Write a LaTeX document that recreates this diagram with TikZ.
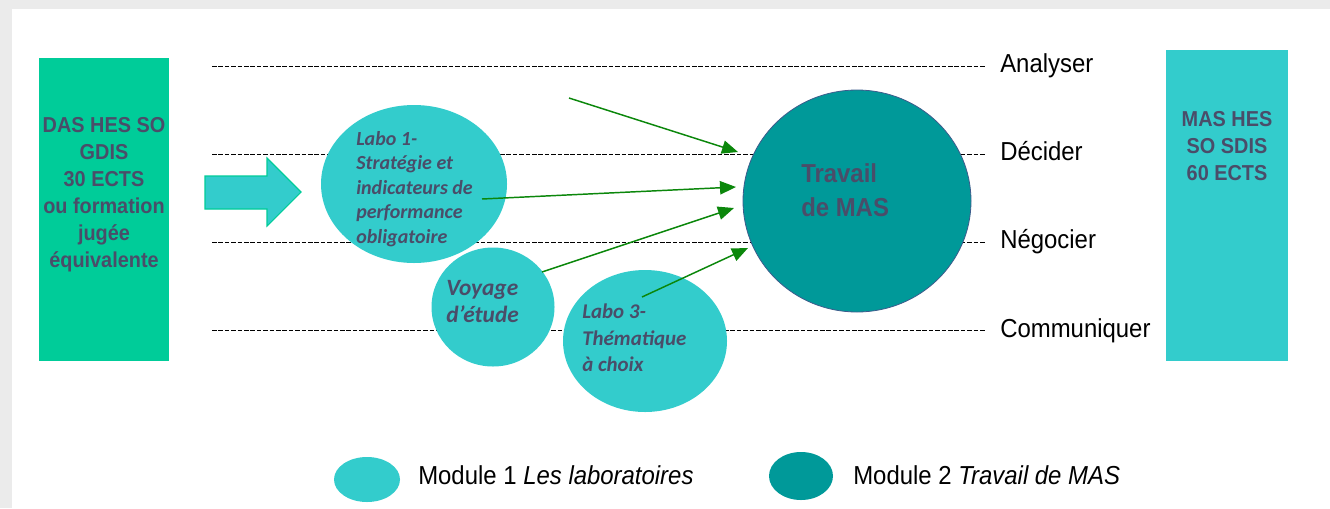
\documentclass[tikz,border=0pt]{standalone}
\usepackage{fontspec}
\setmainfont{Liberation Sans}
\newfontfamily\narrowfont[FakeStretch=0.92]{Liberation Sans}
\newfontfamily\calfont{Carlito}
\usetikzlibrary{arrows.meta,shapes.geometric}
\definecolor{bggray}{HTML}{EBEBEB}
\definecolor{boxgreen}{HTML}{00CC99}
\definecolor{lightteal}{HTML}{33CCCC}
\definecolor{darkteal}{HTML}{009999}
\definecolor{txtdark}{HTML}{4A4D69}
\definecolor{arrgreen}{HTML}{0B870B}
\definecolor{rimblue}{HTML}{3D5C8C}
\tikzset{
  level/.style={draw=black, line width=0.75pt, dash pattern=on 3.5pt off 1.3pt},
  lvllabel/.style={anchor=base west, inner sep=0pt, font=\narrowfont\fontsize{19.5}{22}\selectfont, text=black},
  labo/.style={ellipse, fill=lightteal, inner sep=0pt},
  labotext/.style={anchor=west, align=left, inner sep=0pt, text=txtdark},
  flow/.style={draw=arrgreen, line width=1.1pt, -{Triangle[length=12pt,width=10pt]}},
  bigbox/.style={rectangle, inner sep=0pt},
  boxtext/.style={align=center, inner sep=0pt, text=txtdark, font=\narrowfont\bfseries\fontsize{16.2}{20.3}\selectfont},
}
\begin{document}
\begin{tikzpicture}[x=0.75pt, y=-0.75pt]
\useasboundingbox (0,0) rectangle (1330,508);
\fill[bggray] (0,0) rectangle (1330,508);
\fill[white] (12,9) rectangle (1330,508);

% level lines
\draw[level] (212,66) -- (985,66);
\draw[level] (212,154) -- (985,154);
\draw[level] (212,242) -- (985,242);
\draw[level] (212,330) -- (985,330);
\node[lvllabel] (lan) at (1000,72) {Analyser};
\node[lvllabel] (lde) at (1000,160) {Décider};
\node[lvllabel] (lne) at (1000,248) {Négocier};
\node[lvllabel] (lco) at (1000,337) {Communiquer};

% side boxes
\node[bigbox, fill=boxgreen, minimum width=97.5pt, minimum height=227.25pt] (das) at (104,209.5) {};
\node[boxtext] (dastext) at (104,195) {DAS HES SO\\GDIS\\30 ECTS\\ou formation\\jugée\\équivalente};
\node[bigbox, fill=lightteal, minimum width=91.5pt, minimum height=233.25pt] (mas) at (1227,205.5) {};
\node[boxtext] (mastext) at (1227,146) {MAS HES\\SO SDIS\\60 ECTS};

% block arrow
\fill[lightteal, draw=boxgreen, line width=0.8pt] (205,176) -- (267,176) -- (267,158) -- (301,192) -- (267,226) -- (267,209) -- (205,209) -- cycle;

% labo ellipses
\node[labo, minimum width=139.5pt, minimum height=118.5pt] (labo1) at (414,184) {};
\node[labo, minimum width=92.25pt, minimum height=89.25pt] (voyage) at (493,307) {};
\node[labo, minimum width=123pt, minimum height=106.5pt] (labo3) at (645,341) {};
\node[ellipse, fill=darkteal, draw=rimblue, line width=0.6pt, inner sep=0pt, minimum width=171pt, minimum height=166.5pt] (travail) at (857,201) {};

\node[labotext, font=\calfont\bfseries\itshape\fontsize{15}{18.4}\selectfont] (t1) at (356,189) {Labo 1-\\Stratégie et\\indicateurs de\\performance\\obligatoire};
\node[labotext, font=\calfont\bfseries\itshape\fontsize{17.5}{20.3}\selectfont] (t2) at (446,301.5) {Voyage\\d’étude};
\node[labotext, font=\calfont\bfseries\itshape\fontsize{15.7}{19.9}\selectfont] (t3) at (582,338) {Labo 3-\\Thématique\\à choix};
\node[labotext, font=\narrowfont\bfseries\fontsize{19.5}{25.5}\selectfont] (t4) at (801,190) {Travail\\de MAS};

% arrows
\coordinate (s1) at (569,98);  \coordinate (e1) at (738,152);
\coordinate (s2) at (482,199); \coordinate (e2) at (736,187);
\coordinate (s3) at (542,272); \coordinate (e3) at (734,208);
\coordinate (s4) at (642,297); \coordinate (e4) at (748,248);
\draw[flow] (s1) -- (e1);
\draw[flow] (s2) -- (e2);
\draw[flow] (s3) -- (e3);
\draw[flow] (s4) -- (e4);

% legend
\node[labo, minimum width=49.5pt, minimum height=33.75pt] (leg1) at (367,479.5) {};
\node[lvllabel] (leg1t) at (418,484) {Module 1 \textit{Les laboratoires}};
\node[ellipse, fill=darkteal, inner sep=0pt, minimum width=48pt, minimum height=36pt] (leg2) at (801,476) {};
\node[lvllabel] (leg2t) at (853,484) {Module 2 \textit{Travail de MAS}};
\end{tikzpicture}
\end{document}
